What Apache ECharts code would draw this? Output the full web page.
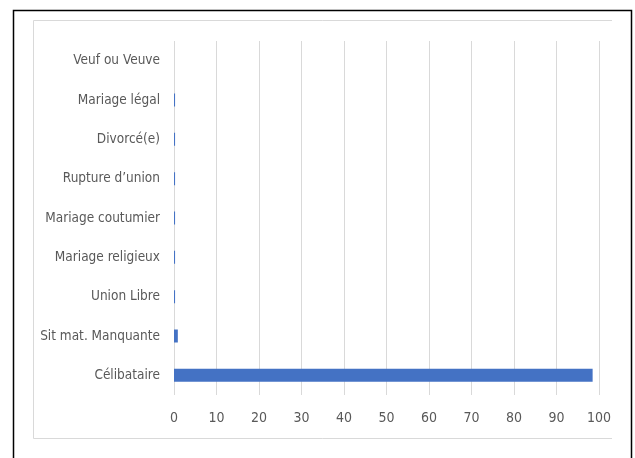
<!DOCTYPE html>
<html>
<head>
<meta charset="utf-8">
<script src="https://cdn.jsdelivr.net/npm/echarts@6/dist/echarts.min.js"></script>
<style>
  html, body { margin: 0; padding: 0; background: #fff; }
  #main { width: 635px; height: 458px; }
</style>
</head>
<body>
<div id="main"></div>
<script>
// categories bottom to top, as drawn by the category axis
const categories = ['Célibataire', 'Sit mat. Manquante', 'Union Libre', 'Mariage religieux',
  'Mariage coutumier', "Rupture d\u2019union", 'Divorcé(e)', 'Mariage légal', 'Veuf ou Veuve'];
const values = [98.5, 0.9, 0.25, 0.25, 0.25, 0.25, 0.25, 0.25, 0];
const xTicks = [0, 10, 20, 30, 40, 50, 60, 70, 80, 90, 100];

const font = '"Liberation Sans Narrow", "DejaVu Sans Condensed", Roboto, sans-serif';

window.onload = function () {
  const myChart = echarts.init(document.getElementById('main'));
  const option = {
    animation: false,
    backgroundColor: '#fff',
    graphic: [
      {
        // outer black frame (bottom is cut off)
        type: 'polyline',
        shape: { points: [[13.5, 470], [13.5, 10.5], [631.5, 10.5], [631.5, 470]] },
        style: { fill: 'none', stroke: '#000', lineWidth: 1.5 },
        silent: true
      },
      {
        // chart area border
        type: 'polyline',
        shape: { points: [[612, 20.5], [33.5, 20.5], [33.5, 438.5], [612, 438.5]] },
        style: { fill: 'none', stroke: '#d9d9d9', lineWidth: 1 },
        silent: true
      }
    ],
    grid: { left: 174, right: 36, top: 41, bottom: 63 },
    xAxis: {
      type: 'value',
      min: xTicks[0],
      max: xTicks[xTicks.length - 1],
      interval: 10,
      axisLine: { show: false },
      axisTick: { show: false },
      splitLine: { lineStyle: { color: '#d9d9d9', width: 1 } },
      axisLabel: { color: '#595959', fontFamily: font, fontSize: 14, margin: 16 }
    },
    yAxis: {
      type: 'category',
      data: categories,
      axisLine: { show: false },
      axisTick: { show: false },
      axisLabel: { color: '#595959', fontFamily: font, fontSize: 13.5, margin: 14 }
    },
    series: [{
      type: 'bar',
      data: values,
      barWidth: 13,
      itemStyle: { color: '#4472c4' }
    }]
  };
  myChart.setOption(option, true);
};
</script>
</body>
</html>
